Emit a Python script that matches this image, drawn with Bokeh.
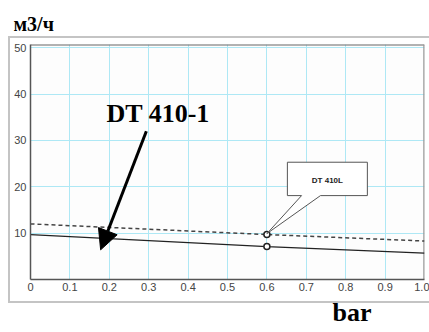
from bokeh.plotting import figure
from bokeh.models import (Range1d, FixedTicker, Label, Arrow, NormalHead,
                          Title, CustomJSTickFormatter, InlineStyleSheet)
from bokeh.embed import file_html
from bokeh.resources import INLINE

# data
x_pts = [0.0, 0.6, 1.0]
y_solid = [9.7, 7.1, 5.7]      # DT 410-1
y_dashed = [12.0, 9.7, 8.3]    # DT 410L
marker_x = [0.6, 0.6]
marker_y = [7.1, 9.7]
x_ticks = [0.0, 0.1, 0.2, 0.3, 0.4, 0.5, 0.6, 0.7, 0.8, 0.9, 1.0]
y_ticks = [10, 20, 30, 40, 50]

box_css = InlineStyleSheet(css="""
:host::after {
  content: '';
  position: absolute;
  left: 8px; top: 36px; width: 440px; height: 267px;
  border: 2px solid #c4c4c4;
  box-sizing: border-box;
  pointer-events: none;
}
""")

W, H = 429, 332
p = figure(width=W, height=H, output_backend="svg", toolbar_location=None,
           x_range=Range1d(0, 1.0), y_range=Range1d(0, 50.7),
           min_border_left=30, min_border_right=5, min_border_top=44,
           min_border_bottom=53, stylesheets=[box_css])
p.background_fill_color = "#fdfdfd"
p.border_fill_color = "white"
p.outline_line_color = None

# title (units)
p.title.text = "м3/ч"
p.title.align = "left"
p.title.offset = -17
p.title.text_font = "Liberation Serif"
p.title.text_font_style = "bold"
p.title.text_font_size = "20px"
p.title.text_color = "black"
p.title.standoff = 19

for ax in (p.xaxis[0], p.yaxis[0]):
    ax.major_tick_line_color = None
    ax.minor_tick_line_color = None
    ax.major_tick_out = 0
    ax.major_tick_in = 0
    ax.minor_tick_out = 0
    ax.minor_tick_in = 0
    ax.axis_line_color = "#555555"
    ax.axis_line_width = 1.5
    ax.major_label_text_font = "Liberation Sans"
    ax.major_label_text_font_size = "11px"
    ax.major_label_text_color = "#444444"
p.xaxis.ticker = FixedTicker(ticks=x_ticks)
p.yaxis.ticker = FixedTicker(ticks=y_ticks)
p.xaxis.major_label_standoff = 3
p.yaxis.major_label_standoff = 4
p.xaxis.formatter = CustomJSTickFormatter(
    code="return tick == 0 ? '0' : tick.toFixed(1);")

# "bar" unit label below the plot
p.add_layout(Title(text="bar", align="left", offset=302, standoff=4,
                   text_font="Liberation Serif", text_font_style="bold",
                   text_font_size="26px", text_color="black"), "below")

p.xgrid.ticker = FixedTicker(ticks=x_ticks[1:])
p.ygrid.ticker = FixedTicker(ticks=y_ticks)
p.grid.grid_line_color = "#aee8f5"
p.grid.grid_line_width = 1

# frame: top and right lines
p.line([0, 1.0], [50.7, 50.7], line_color="#666666", line_width=2)
p.line([1.0, 1.0], [0, 50.7], line_color="#999999", line_width=2.5)

# series
p.line(x_pts, y_dashed, line_color="#444444", line_width=1.5, line_dash="4 3")
p.line(x_pts, y_solid, line_color="#222222", line_width=1.2)
p.scatter(marker_x, marker_y, size=6, fill_color="white", line_color="#222222",
          line_width=1.5)

# callout for DT 410L
cx = [0.652, 0.855, 0.855, 0.736, 0.6, 0.688, 0.652]
cy = [25.3, 25.3, 18.1, 18.1, 9.9, 18.1, 18.1]
p.patch(cx, cy, fill_color="white", line_color="#555555", line_width=1)
p.add_layout(Label(x=0.7535, y=21.4, text="DT 410L", text_font="Liberation Sans",
                   text_font_style="bold", text_font_size="8px", text_align="center",
                   text_baseline="middle", text_color="#222222"))

# arrow annotation DT 410-1
p.add_layout(Arrow(x_start=0.294, y_start=32.0, x_end=0.178, y_end=6.4,
                   line_color="black", line_width=3,
                   end=NormalHead(size=20, fill_color="black", line_color="black")))
p.add_layout(Label(x=0.324, y=35.9, text="DT 410-1", text_font="Liberation Serif",
                   text_font_style="bold", text_font_size="26px", text_align="center",
                   text_baseline="middle", text_color="black"))

open("out.html", "w").write(file_html(p, INLINE))
